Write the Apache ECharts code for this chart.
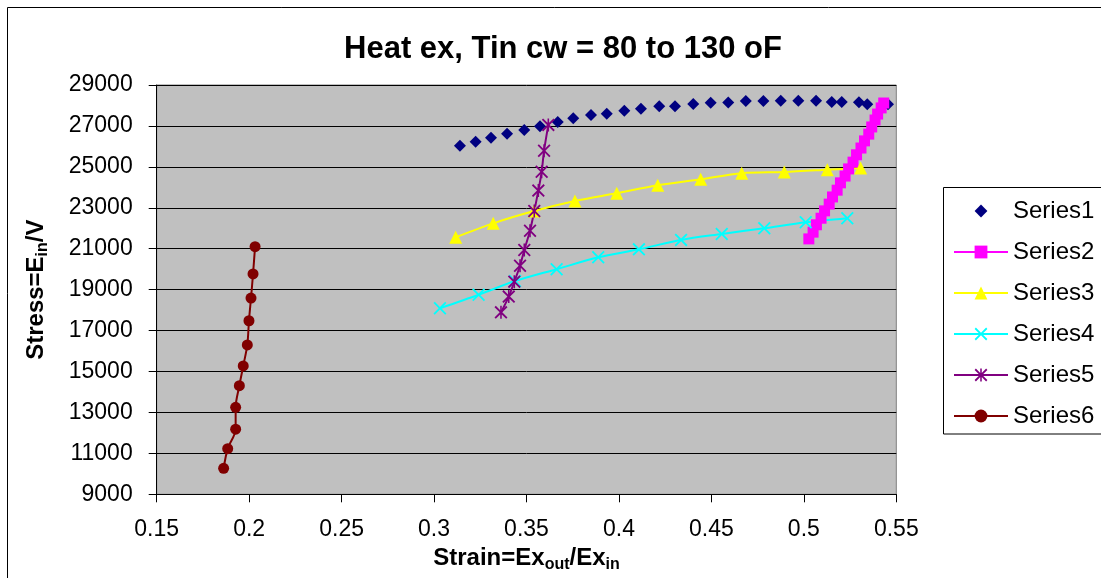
<!DOCTYPE html>
<html>
<head>
<meta charset="utf-8">
<title>Heat ex, Tin cw = 80 to 130 oF</title>
<script src="https://cdn.jsdelivr.net/npm/echarts@6/dist/echarts.min.js"></script>
<style>
  html, body { margin: 0; padding: 0; background: #fff; }
  #chart { width: 1101px; height: 578px; }
</style>
</head>
<body>
<div id="chart"></div>
<script>
// Values
const seriesNames = ['Series1', 'Series2', 'Series3', 'Series4', 'Series5', 'Series6'];

const series1X = [0.3140, 0.3225, 0.3308, 0.3395, 0.3488, 0.3573, 0.3669, 0.3753, 0.3849, 0.3934, 0.4029, 0.4119, 0.4218, 0.4303, 0.4402, 0.4496, 0.4591, 0.4686, 0.4781, 0.4875, 0.4970, 0.5066, 0.5151, 0.5205, 0.5298, 0.5343, 0.5455];
const series1Y = [26030, 26230, 26420, 26620, 26800, 26980, 27190, 27370, 27530, 27600, 27740, 27840, 27960, 27960, 28070, 28130, 28140, 28220, 28220, 28230, 28230, 28230, 28170, 28170, 28160, 28060, 28060];

const series2X = [0.5027, 0.5050, 0.5068, 0.5093, 0.5112, 0.5137, 0.5155, 0.5180, 0.5198, 0.5223, 0.5242, 0.5266, 0.5285, 0.5309, 0.5328, 0.5351, 0.5367, 0.5385, 0.5399, 0.5418, 0.5432];
const series2Y = [21480, 21810, 22170, 22490, 22850, 23180, 23530, 23860, 24220, 24550, 24900, 25230, 25590, 25920, 26270, 26600, 26950, 27290, 27580, 27880, 28120];

const series3X = [0.3117, 0.3320, 0.3541, 0.3762, 0.3988, 0.4210, 0.4442, 0.4664, 0.4894, 0.5127, 0.5307];
const series3Y = [21560, 22240, 22840, 23330, 23710, 24100, 24390, 24690, 24750, 24860, 24950];

const series4X = [0.3032, 0.3241, 0.3438, 0.3663, 0.3888, 0.4108, 0.4336, 0.4556, 0.4786, 0.5010, 0.5235];
const series4Y = [18090, 18750, 19420, 20000, 20580, 20970, 21430, 21720, 22000, 22290, 22490];

const series5X = [0.3618, 0.3595, 0.3582, 0.3564, 0.3542, 0.3519, 0.3488, 0.3465, 0.3434, 0.3404, 0.3362];
const series5Y = [27050, 25790, 24760, 23840, 22840, 21880, 20940, 20170, 19390, 18660, 17890];

const series6X = [0.2032, 0.2021, 0.2010, 0.1999, 0.1990, 0.1968, 0.1947, 0.1927, 0.1927, 0.1884, 0.1862];
const series6Y = [21100, 19770, 18590, 17480, 16300, 15270, 14310, 13250, 12180, 11230, 10270];

// Axis ranges / ticks
const xMin = 0.15, xMax = 0.55, xStep = 0.05;
const yMin = 9000, yMax = 29000, yStep = 2000;

const FONT = "'Liberation Sans', Arial, sans-serif";

// Marker shapes (Excel style X and star)
const crossPath = 'path://M2,0L10,8L18,0L20,2L12,10L20,18L18,20L10,12L2,20L0,18L8,10L0,2Z';
const starPath = 'path://M2,0L10,8L18,0L20,2L12,10L20,18L18,20L10,12L2,20L0,18L8,10L0,2ZM8.8,0L11.2,0L11.2,20L8.8,20Z';

function pairs(xs, ys) {
    return xs.map((x, i) => [x, ys[i]]);
}

function lineSeries(name, xs, ys, color, symbol, size) {
    return {
        name: name,
        type: 'line',
        data: pairs(xs, ys),
        smooth: 0.3,
        symbol: symbol,
        symbolSize: size,
        lineStyle: { color: color, width: 2 },
        itemStyle: { color: color },
        emphasis: { disabled: true }
    };
}

const chart = echarts.init(document.getElementById('chart'));

// Series1 is markers only
const s1 = lineSeries(seriesNames[0], series1X, series1Y, '#000080', 'diamond', 12);
s1.lineStyle = { color: '#000080', width: 2, opacity: 0 };

const subRich = {
    b: { fontFamily: FONT, fontSize: 24, fontWeight: 'bold', color: '#000' },
    s: { fontFamily: FONT, fontSize: 16, fontWeight: 'bold', color: '#000', padding: [12, 0, 0, 0] }
};

chart.setOption({
    animation: false,
    backgroundColor: '#fff',
    graphic: [
        {
            type: 'rect',
            shape: { x: 7.5, y: 7.5, width: 1300, height: 800 },
            style: { fill: 'none', stroke: '#000', lineWidth: 1 }
        },
        {
            // legend frame, runs past the right edge like the reference
            type: 'rect',
            shape: { x: 943.5, y: 187.5, width: 300, height: 246.5 },
            style: { fill: '#fff', stroke: '#000', lineWidth: 1 }
        },
        {
            type: 'text',
            x: 563,
            y: 49,
            style: {
                text: 'Heat ex, Tin cw = 80 to 130 oF',
                font: 'bold 31px ' + FONT,
                fill: '#000',
                align: 'center',
                verticalAlign: 'middle'
            }
        }
    ],
    grid: {
        left: 156.7,
        right: 204.7,
        top: 85,
        bottom: 83.7,
        show: true,
        backgroundColor: '#c0c0c0',
        borderColor: '#808080',
        borderWidth: 1
    },
    legend: {
        data: seriesNames,
        orient: 'vertical',
        left: 943,
        top: 187,
        z: 20,
        itemWidth: 54,
        itemHeight: 16,
        itemGap: 17,
        padding: [12, 10, 7, 10],
        textStyle: { fontFamily: FONT, fontSize: 24, color: '#000' }
    },
    xAxis: {
        type: 'value',
        min: xMin,
        max: xMax,
        interval: xStep,
        name: '{b|Strain=Ex}{s|out}{b|/Ex}{s|in}',
        nameLocation: 'middle',
        nameGap: 46,
        nameTextStyle: { rich: subRich },
        axisLine: { show: true, onZero: false, lineStyle: { color: '#000', width: 1 } },
        axisTick: { show: true, length: 8, lineStyle: { color: '#000' } },
        axisLabel: { fontFamily: FONT, fontSize: 23, color: '#000', margin: 24 },
        splitLine: { show: false }
    },
    yAxis: {
        type: 'value',
        min: yMin,
        max: yMax,
        interval: yStep,
        name: '{b|Stress=E}{s|in}{b|/V}',
        nameLocation: 'middle',
        nameRotate: 90,
        nameGap: 106,
        nameTextStyle: { rich: subRich },
        axisLine: { show: true, onZero: false, lineStyle: { color: '#000', width: 1 } },
        axisTick: { show: true, length: 8, lineStyle: { color: '#000' } },
        axisLabel: {
            fontFamily: FONT,
            fontSize: 23,
            color: '#000',
            margin: 24,
            formatter: function(value) { return String(value); }
        },
        splitLine: { show: true, lineStyle: { color: '#000', width: 1 } }
    },
    series: [
        s1,
        lineSeries(seriesNames[1], series2X, series2Y, '#ff00ff', 'rect', 11),
        lineSeries(seriesNames[2], series3X, series3Y, '#ffff00', 'triangle', 13),
        lineSeries(seriesNames[3], series4X, series4Y, '#00ffff', crossPath, 13),
        lineSeries(seriesNames[4], series5X, series5Y, '#800080', starPath, 13),
        lineSeries(seriesNames[5], series6X, series6Y, '#800000', 'circle', 11)
    ]
});

window.addEventListener('resize', function() {
    chart.resize();
});
</script>
</body>
</html>
